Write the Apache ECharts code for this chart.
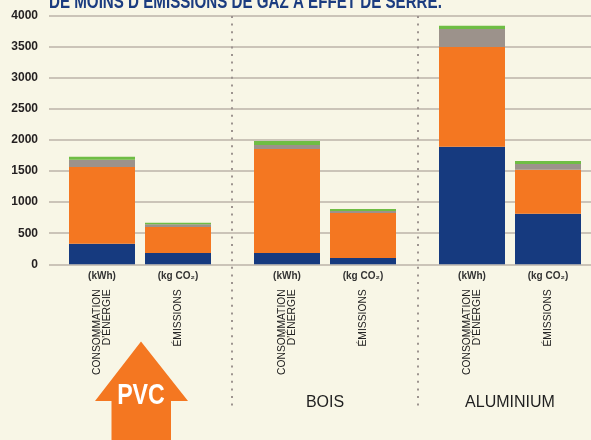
<!DOCTYPE html>
<html>
<head>
<meta charset="utf-8">
<script src="https://cdn.jsdelivr.net/npm/echarts@6/dist/echarts.min.js"></script>
<style>
    html, body { margin: 0; padding: 0; background: #f8f6e6; }
    #chart { width: 591px; height: 440px; }
</style>
</head>
<body>
<div id="chart"></div>
<script>
// Data
var materials = ['PVC', 'BOIS', 'ALUMINIUM'];
var units = ['(kWh)', '(kg CO\u2082)'];
var measures = ['CONSOMMATION\nD\u2019\u00c9NERGIE', '\u00c9MISSIONS'];
var titleText = 'DE MOINS D\u2019\u00c9MISSIONS DE GAZ \u00c0 EFFET DE SERRE.';

// order: PVC kWh, PVC CO2, BOIS kWh, BOIS CO2, ALU kWh, ALU CO2
var partBlue   = [331, 182, 182, 101, 1892, 814];
var partOrange = [1234, 418, 1673, 724, 1604, 708];
var partGray   = [118, 43, 64, 32, 289, 92];
var partGreen  = [48, 26, 65, 33, 53, 48];

var parts = [partBlue, partOrange, partGray, partGreen];
var partColors = ['#163a7f', '#f47721', '#9c928b', '#6fbd45'];

var yMin = 0, yMax = 4000, yStep = 500;

var font = "'Liberation Sans', Arial, sans-serif";

var chart_element = document.getElementById('chart');
var chart = echarts.init(chart_element);

var gridTop = 15.7, gridBottom = 175.7;
var groupLefts = [64, 249, 434];

var grids = [{ left: 49, right: 0, top: gridTop, bottom: gridBottom }];
var xAxes = [{ gridIndex: 0, type: 'category', data: [''], show: false }];
var yAxes = [{
    gridIndex: 0,
    type: 'value',
    min: yMin, max: yMax, interval: yStep,
    axisLine: { show: false },
    axisTick: { show: false },
    axisLabel: {
        margin: 11, color: '#231f20', fontSize: 12, fontWeight: 'bold', fontFamily: font,
        formatter: function (v) { return String(v); }
    },
    splitLine: { lineStyle: { color: '#bdb3a8', width: 1.5 } }
}];
var series = [];

materials.forEach(function (m, g) {
    grids.push({ left: groupLefts[g], width: 152, top: gridTop, bottom: gridBottom });
    // unit labels
    xAxes.push({
        gridIndex: g + 1,
        type: 'category',
        data: units,
        position: 'bottom',
        axisLine: { show: false },
        axisTick: { show: false },
        axisLabel: { margin: 7, color: '#333', fontSize: 10, fontWeight: 'bold', fontFamily: font }
    });
    // rotated measure labels + group name
    xAxes.push({
        gridIndex: g + 1,
        type: 'category',
        data: measures,
        position: 'bottom',
        offset: 0,
        axisLine: { show: false },
        axisTick: { show: false },
        axisLabel: { margin: 25, rotate: 90, color: '#222', fontSize: 10.3, lineHeight: 10.5, fontFamily: font },
        name: g === 0 ? '' : m,
        nameLocation: 'middle',
        nameGap: 130,
        nameTextStyle: { color: '#1f1f1f', fontSize: 16, fontFamily: font }
    });
    yAxes.push({ gridIndex: g + 1, type: 'value', min: yMin, max: yMax, show: false });

    parts.forEach(function (p, k) {
        series.push({
            type: 'bar',
            stack: 'g' + g,
            xAxisIndex: 1 + g * 2,
            yAxisIndex: g + 1,
            barWidth: 66,
            itemStyle: { color: partColors[k] },
            data: [p[g * 2], p[g * 2 + 1]]
        });
    });
});

function dotted(x) {
    return {
        type: 'line',
        shape: { x1: x, y1: 16, x2: x, y2: 408 },
        style: { stroke: '#9d948f', lineWidth: 2, lineDash: [2, 5.6] },
        z: 1
    };
}

chart.setOption({
    backgroundColor: '#f8f6e6',
    animation: false,
    textStyle: { fontFamily: font },
    grid: grids,
    xAxis: xAxes,
    yAxis: yAxes,
    series: series,
    graphic: [
        {
            type: 'text',
            x: 49,
            y: -7.5,
            scaleX: 0.757,
            style: { text: titleText, fill: '#1b3c80', fontSize: 20, fontWeight: 'bold', fontFamily: font, verticalAlign: 'top' }
        },
        dotted(232),
        dotted(418),
        {
            type: 'polygon',
            shape: { points: [[141, 341.5], [188, 401], [171, 401], [171, 445], [111.5, 445], [111.5, 401], [95, 401]] },
            style: { fill: '#f47721' }
        },
        {
            type: 'text',
            x: 141, y: 396,
            scaleX: 0.8,
            style: { text: materials[0], fill: '#fff', fontSize: 29, fontWeight: 'bold', fontFamily: font, align: 'center', verticalAlign: 'middle' }
        }
    ]
});
</script>
</body>
</html>
